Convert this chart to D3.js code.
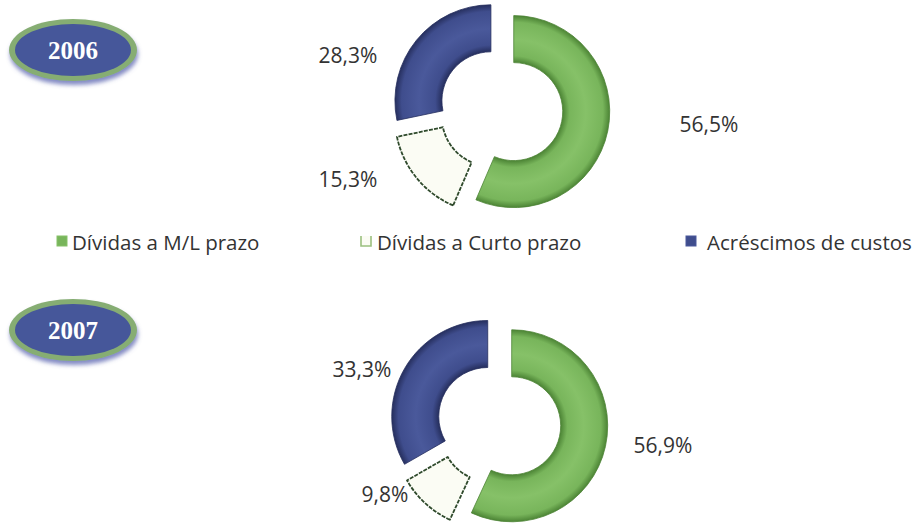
<!DOCTYPE html>
<html>
<head>
<meta charset="utf-8">
<script src="https://cdn.jsdelivr.net/npm/d3@7"></script>
<style>
  html, body { margin: 0; padding: 0; background: #ffffff; }
  svg { display: block; }
  text { font-family: "Open Sans", "Noto Sans", sans-serif; }
</style>
</head>
<body>
<svg id="chart" width="917" height="525"></svg>
<script>
// Debt structure by year (percent of total)
const years = ["2006", "2007"];
const categories = ["Dívidas a M/L prazo", "Dívidas a Curto prazo", "Acréscimos de custos"];
const values2006 = [56.5, 15.3, 28.3];
const values2007 = [56.9, 9.8, 33.3];

// Portuguese number format: decimal comma
const pt = d3.formatLocale({ decimal: ",", thousands: ".", grouping: [3], currency: ["€", ""] });
const fmt = v => pt.format(".1f")(v) + "%";

const svg = d3.select("#chart");
const defs = svg.append("defs");

const outerR = 96, innerR = 49, explode = 13;

// Layout of each year's panel
const panels = [
  { year: years[0], values: values2006, cx: 501, cy: 109, badgeY: 50,
    labelPos: [[709, 132], [348, 187], [348, 63]] },
  { year: years[1], values: values2007, cx: 499, cy: 423, badgeY: 330,
    labelPos: [[663, 453], [385, 502], [362, 377]] }
];

const colors = d3.scaleOrdinal().domain(categories).range(["#78b55b", "#fbfcf4", "#3f4d8d"]);
const rims = d3.scaleOrdinal().domain(categories).range(["#4c8435", "#2f4a2c", "#262f5e"]);
const lights = d3.scaleOrdinal().domain(categories).range(["#86c168", "#ffffff", "#4a599b"]);

const pie = d3.pie().sort(null).value(d => d.value).startAngle(0).endAngle(2 * Math.PI);
const arc = d3.arc().innerRadius(innerR).outerRadius(outerR);

// Badge drop shadow
const sh = defs.append("filter").attr("id", "badgeShadow")
  .attr("x", "-20%").attr("y", "-20%").attr("width", "140%").attr("height", "160%");
sh.append("feGaussianBlur").attr("in", "SourceAlpha").attr("stdDeviation", 2).attr("result", "b");
sh.append("feOffset").attr("in", "b").attr("dx", 1).attr("dy", 4).attr("result", "o");
sh.append("feFlood").attr("flood-color", "#5a64b0").attr("flood-opacity", 0.75);
sh.append("feComposite").attr("in2", "o").attr("operator", "in").attr("result", "s");
const mg = sh.append("feMerge");
mg.append("feMergeNode").attr("in", "s");
mg.append("feMergeNode").attr("in", "SourceGraphic");

panels.forEach((p, pi) => {
  const data = categories.map((c, i) => ({ cat: c, value: p.values[i] }));
  const arcs = pie(data);
  const g = svg.append("g").attr("transform", `translate(${p.cx},${p.cy})`);

  arcs.forEach((a, i) => {
    const mid = (a.startAngle + a.endAngle) / 2;
    const dx = explode * Math.sin(mid), dy = -explode * Math.cos(mid);
    const gid = `ring${pi}_${i}`;
    // tube-like shading across the ring width
    const grad = defs.append("radialGradient").attr("id", gid)
      .attr("gradientUnits", "userSpaceOnUse").attr("cx", 0).attr("cy", 0).attr("r", outerR);
    const f = innerR / outerR;
    grad.append("stop").attr("offset", f).attr("stop-color", rims(a.data.cat));
    grad.append("stop").attr("offset", f + 0.07).attr("stop-color", colors(a.data.cat));
    grad.append("stop").attr("offset", 0.75).attr("stop-color", lights(a.data.cat));
    grad.append("stop").attr("offset", 0.93).attr("stop-color", colors(a.data.cat));
    grad.append("stop").attr("offset", 1).attr("stop-color", rims(a.data.cat));

    const isLight = i === 1;
    g.append("path")
      .attr("transform", `translate(${dx},${dy})`)
      .attr("d", arc(a))
      .attr("fill", isLight ? colors(a.data.cat) : `url(#${gid})`)
      .attr("stroke", rims(a.data.cat))
      .attr("stroke-width", isLight ? 1.8 : 0.8)
      .attr("stroke-dasharray", isLight ? "4,1.2" : null)
      .attr("stroke-linejoin", "round");

    svg.append("text")
      .attr("x", p.labelPos[i][0]).attr("y", p.labelPos[i][1])
      .attr("text-anchor", "middle")
      .attr("font-size", 21).attr("fill", "#333333")
      .text(fmt(a.data.value));
  });

  // Year badge
  const b = svg.append("g").attr("transform", `translate(73,${p.badgeY})`);
  b.append("ellipse").attr("rx", 64).attr("ry", 31)
    .attr("fill", "#86ad73").attr("filter", "url(#badgeShadow)");
  b.append("ellipse").attr("rx", 58).attr("ry", 26).attr("fill", "#46579a");
  b.append("text").attr("y", 9).attr("text-anchor", "middle")
    .style("font-family", "'Liberation Serif', 'DejaVu Serif', serif")
    .attr("font-weight", "bold").attr("font-size", 25).attr("fill", "#ffffff")
    .text(p.year);
});

// Legend
const legendX = [[57, 72], [361, 377], [686, 707]];
const lg = svg.append("g");
categories.forEach((c, i) => {
  const [mx, tx] = legendX[i];
  if (i === 1) {
    lg.append("path")
      .attr("d", `M${mx},236 L${mx},246 L${mx + 10},246 L${mx + 10},236`)
      .attr("fill", "#fbfcf4").attr("stroke", "#9bc07f").attr("stroke-width", 1.6);
  } else {
    lg.append("rect").attr("x", mx).attr("y", 236).attr("width", 10).attr("height", 10)
      .attr("fill", colors(c)).attr("stroke", lights(c)).attr("stroke-width", 1);
  }
  lg.append("text").attr("x", tx).attr("y", 250)
    .attr("font-size", 20.5).attr("fill", "#333333").text(c);
});
</script>
</body>
</html>
